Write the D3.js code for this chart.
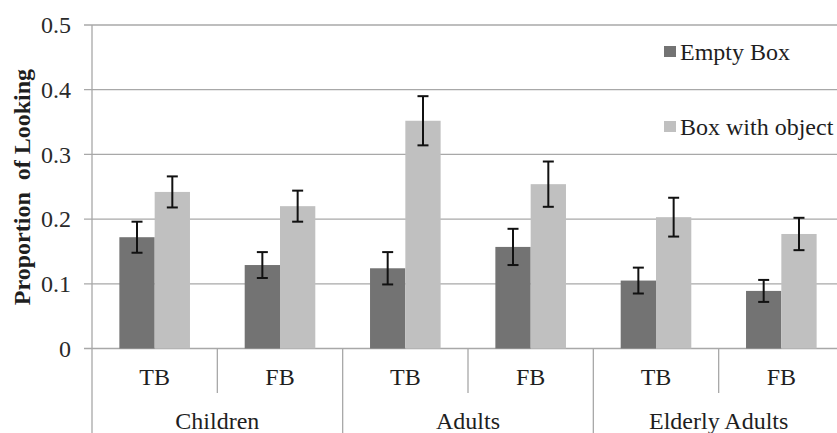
<!DOCTYPE html>
<html>
<head>
<meta charset="utf-8">
<script src="https://cdn.jsdelivr.net/npm/d3@7"></script>
</head>
<body style="margin:0">
<svg id="chart" width="837" height="433" font-family="Liberation Serif"></svg>
<script>
// ---- data ----
const groups = ["Children", "Adults", "Elderly Adults"];
const conditions = ["TB", "FB"];
const seriesNames = ["Empty Box", "Box with object"];
const emptyBox = [0.172, 0.129, 0.124, 0.157, 0.105, 0.089];
const emptyBoxErr = [0.024, 0.020, 0.025, 0.028, 0.020, 0.017];
const boxWithObject = [0.242, 0.220, 0.352, 0.254, 0.203, 0.177];
const boxWithObjectErr = [0.024, 0.024, 0.038, 0.035, 0.030, 0.025];
const yTicks = [0, 0.1, 0.2, 0.3, 0.4, 0.5];
const colors = ["#737373", "#c0c0c0"];

(function () {
const FONT = "Liberation Serif";
const FS = 24;
const TXT = "#1e1e1e";
const svg = d3.select("#chart");
const mLeft = 92, mRight = 844, mTop = 25, mBottom = 348.5;
const gridColor = "#a8a8a8";

const cells = [];
groups.forEach((g, gi) => conditions.forEach((c, ci) => cells.push({ key: g + "|" + c, group: g, cond: c, i: gi * conditions.length + ci })));

const x0 = d3.scaleBand().domain(cells.map(d => d.key)).range([mLeft, mRight]).padding(0);
const x1 = d3.scaleBand().domain(seriesNames).range([0, x0.bandwidth()]).paddingInner(0).paddingOuter(0.775);
const y = d3.scaleLinear().domain([0, 0.5]).range([mBottom, mTop]);

// gridlines
svg.append("g").selectAll("line").data(yTicks).join("line")
  .attr("x1", mLeft - 8).attr("x2", 837)
  .attr("y1", d => y(d)).attr("y2", d => y(d))
  .attr("stroke", gridColor).attr("stroke-width", 1.3);

// y tick labels via axis
const yAxis = svg.append("g").attr("transform", `translate(${mLeft},0)`)
  .call(d3.axisLeft(y).tickValues(yTicks).tickFormat(d => d === 0 ? "0" : d3.format(".1f")(d)).tickSize(0).tickPadding(21));
yAxis.select(".domain").remove();
yAxis.attr("font-family", FONT).attr("font-size", FS);
yAxis.selectAll("text").attr("fill", "#2a2a2a").attr("font-family", FONT).attr("font-size", FS);

// y axis line
svg.append("line").attr("x1", mLeft).attr("x2", mLeft).attr("y1", mTop).attr("y2", 433)
  .attr("stroke", gridColor).attr("stroke-width", 1.3);

// bars
const series = [
  { name: seriesNames[0], vals: emptyBox, errs: emptyBoxErr, color: colors[0] },
  { name: seriesNames[1], vals: boxWithObject, errs: boxWithObjectErr, color: colors[1] }
];
const barData = [];
series.forEach(s => cells.forEach(c => barData.push({ s: s.name, key: c.key, v: s.vals[c.i], e: s.errs[c.i], color: s.color })));

svg.append("g").selectAll("rect").data(barData).join("rect")
  .attr("x", d => x0(d.key) + x1(d.s))
  .attr("width", x1.bandwidth())
  .attr("y", d => y(d.v))
  .attr("height", d => y(0) - y(d.v))
  .attr("fill", d => d.color);

// error bars
const eg = svg.append("g").attr("stroke", "#111").attr("stroke-width", 2);
barData.forEach(d => {
  const cx = x0(d.key) + x1(d.s) + x1.bandwidth() / 2;
  eg.append("line").attr("x1", cx).attr("x2", cx).attr("y1", y(d.v + d.e)).attr("y2", y(d.v - d.e));
  eg.append("line").attr("x1", cx - 5.5).attr("x2", cx + 5.5).attr("y1", y(d.v + d.e)).attr("y2", y(d.v + d.e));
  eg.append("line").attr("x1", cx - 5.5).attr("x2", cx + 5.5).attr("y1", y(d.v - d.e)).attr("y2", y(d.v - d.e));
});

// category separators
cells.forEach((c, i) => {
  const xr = x0(c.key) + x0.bandwidth();
  const isGroupEnd = (i % conditions.length) === conditions.length - 1;
  svg.append("line").attr("x1", xr).attr("x2", xr)
    .attr("y1", mBottom).attr("y2", isGroupEnd ? 433 : 393)
    .attr("stroke", gridColor).attr("stroke-width", 1.3);
});

// condition labels
svg.append("g").selectAll("text").data(cells).join("text")
  .attr("x", d => x0(d.key) + x0.bandwidth() / 2)
  .attr("y", 385)
  .attr("text-anchor", "middle")
  .attr("font-family", FONT).attr("font-size", FS).attr("fill", TXT)
  .text(d => d.cond);

// group labels
svg.append("g").selectAll("text").data(groups).join("text")
  .attr("x", (g, gi) => x0(cells[gi * 2].key) + x0.bandwidth())
  .attr("y", 429)
  .attr("text-anchor", "middle")
  .attr("font-family", FONT).attr("font-size", FS).attr("fill", TXT)
  .text(d => d);

// y title
svg.append("text")
  .attr("transform", `translate(30,187) rotate(-90)`)
  .attr("text-anchor", "middle")
  .attr("font-family", FONT).attr("font-size", FS).attr("font-weight", "bold").attr("fill", TXT)
  .text("Proportion\u00a0 of Looking");

// legend
const legend = svg.append("g");
series.forEach((s, i) => {
  const ly = i === 0 ? 52 : 127;
  legend.append("rect").attr("x", 664).attr("y", ly - 6).attr("width", 12).attr("height", 11).attr("fill", s.color);
  legend.append("text").attr("x", 680).attr("y", ly + 7.5)
    .attr("font-family", FONT).attr("font-size", FS).attr("fill", TXT)
    .text(s.name);
});
})();
</script>
</body>
</html>
